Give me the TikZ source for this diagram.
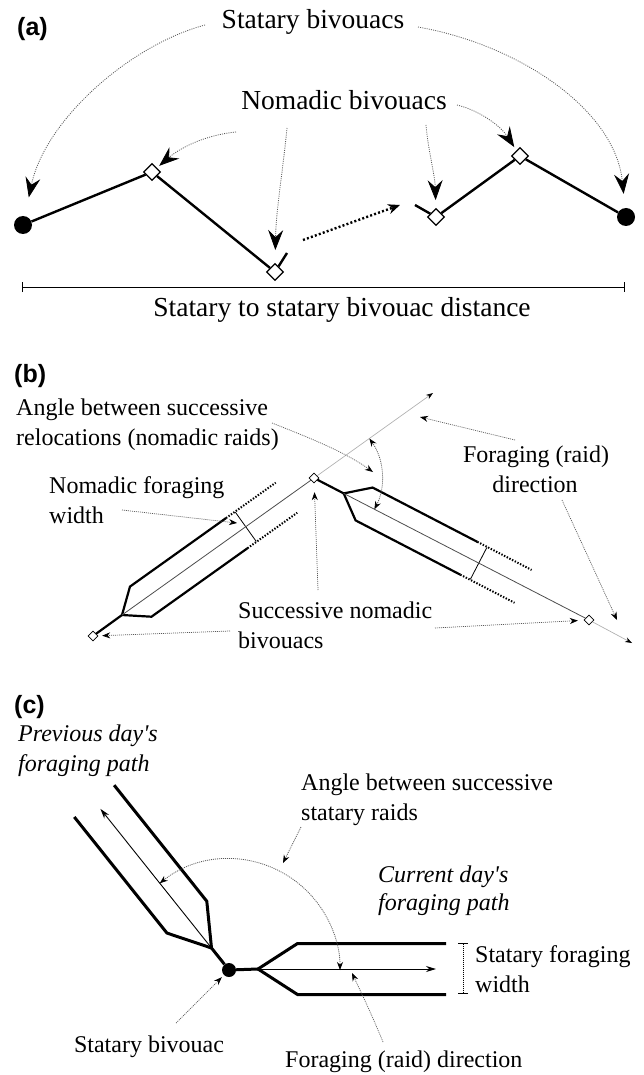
\documentclass[tikz,border=0pt]{standalone}
\usepackage{fontspec}
\setmainfont{Liberation Serif}
\newfontfamily\panelfont{Liberation Sans}
\usetikzlibrary{arrows.meta,shapes.geometric}

\tikzset{
  panel/.style={font=\panelfont\bfseries\fontsize{25}{29}\selectfont, inner sep=0pt},
  txta/.style={font=\fontsize{27.5}{31}\selectfont, inner sep=0pt},
  txt/.style={font=\fontsize{24}{28}\selectfont, inner sep=0pt},
  txti/.style={font=\itshape\fontsize{24}{28}\selectfont, inner sep=0pt},
  statary/.style={circle, fill=black, inner sep=0pt, minimum size=18pt},
  nomadic/.style={diamond, draw=black, fill=white, line width=1.2pt, inner sep=0pt, minimum size=17pt},
  smallbiv/.style={diamond, draw=black, fill=white, line width=0.8pt, inner sep=0pt, minimum size=10pt},
  statdot/.style={circle, fill=black, inner sep=0pt, minimum size=14pt},
  route/.style={line width=2.4pt},
  scalebar/.style={line width=0.9pt, {Bar[width=10pt]}-{Bar[width=10pt]}},
  pointer/.style={gray!70!black, line width=0.8pt, dash pattern=on 1pt off 1.2pt,
    -{Stealth[length=20pt, width=15pt, inset=7pt, color=black]}},
  note/.style={gray!70!black, line width=0.7pt, dash pattern=on 1pt off 1pt,
    -{Stealth[length=8pt, width=6pt, color=black]}},
  gaparrow/.style={line width=2.4pt, dash pattern=on 2pt off 2.2pt,
    -{Stealth[length=12pt, width=10pt]}},
  band/.style={line width=2.2pt},
  banddots/.style={line width=2pt, dash pattern=on 1.4pt off 1.6pt},
  axis/.style={line width=0.8pt, gray!60!black},
  axisext/.style={line width=0.7pt, gray!60, -{Stealth[length=7pt, width=5pt, color=black]}},
  anglearc/.style={gray!70!black, line width=0.8pt, dash pattern=on 1pt off 1pt,
    {Stealth[length=8pt, width=6pt, color=black]}-{Stealth[length=8pt, width=6pt, color=black]}},
  bandc/.style={line width=3pt},
  raidarrow/.style={line width=0.9pt, -{Stealth[length=10pt, width=6pt]}},
  widthbar/.style={line width=0.8pt, dash pattern=on 1pt off 1pt, {Bar[width=10pt]}-{Bar[width=10pt]}},
  % one nomadic raid band, starting at its fork
  raidb/.pic={
    \draw[band] (0,0) -- (23,18.5) -- (141,18.5);
    \draw[band] (0,0) -- (23,-18.5) -- (141,-18.5);
    \draw[banddots] (141,18.5) -- (202,18.5);
    \draw[banddots] (141,-18.5) -- (202,-18.5);
    \draw[line width=0.8pt] (152,18) -- (152,-18);
  },
  % one statary raid band, starting at its fork
  raidc/.pic={
    \draw[bandc] (0,0) -- (39.5,25.5) -- (188,25.5);
    \draw[bandc] (0,0) -- (39.5,-25.5) -- (188,-25.5);
    \draw[raidarrow] (0,0) -- (178,0);
  },
}

\begin{document}
\begin{tikzpicture}[x=1pt,y=1pt]
\useasboundingbox (0,0) rectangle (643,-1075);

% ---------- (a)
\node[panel, anchor=base west] (la) at (17,-36) {(a)};
\node[txta, anchor=base] (sb) at (313,-29) {Statary bivouacs};
\node[txta, anchor=base] (nb) at (344,-110) {Nomadic bivouacs};

\node[statary] (c1) at (23,-225) {};
\node[nomadic] (d1) at (152,-172) {};
\node[nomadic] (d2) at (275,-272) {};
\node[nomadic] (d3) at (436,-217) {};
\node[nomadic] (d4) at (520,-156) {};
\node[statary] (c2) at (626,-217) {};
\coordinate (d2end) at (287,-253);
\coordinate (d3end) at (415,-205);
\coordinate (gap1) at (303,-240);
\coordinate (gap2) at (400,-205);

\draw[route] (c1) -- (d1) -- (d2) -- (d2end);
\draw[route] (d3end) -- (d3) -- (d4) -- (c2);
\draw[gaparrow] (gap1) -- (gap2);

\coordinate (sbl) at (205,-25);
\coordinate (sbr) at (418,-27);
\draw[pointer, shorten >=19pt] (sbl) .. controls (130,-45) and (45,-120) .. (c1);
\draw[pointer, shorten >=14pt] (sbr) .. controls (520,-45) and (615,-110) .. (c2);

\coordinate (nb1) at (236,-132);
\coordinate (nb2) at (287,-128);
\coordinate (nb3) at (426,-125);
\coordinate (nb4) at (457,-105);
\draw[pointer, shorten >=3pt] (nb1) .. controls (205,-135) and (180,-148) .. (d1);
\draw[pointer, shorten >=13pt] (nb2) .. controls (283,-170) and (276,-210) .. (d2);
\draw[pointer, shorten >=8pt] (nb3) .. controls (428,-150) and (435,-175) .. (d3);
\draw[pointer, shorten >=4pt] (nb4) .. controls (478,-110) and (500,-125) .. (d4);

\coordinate (bl) at (22,-287);
\coordinate (br) at (625,-287);
\draw[scalebar] (bl) -- (br);
\node[txta, anchor=base] (dist) at (342,-316) {Statary to statary bivouac distance};

% ---------- (b)
\node[panel, anchor=base west] (lb) at (14,-382) {(b)};
\coordinate (f1) at (122,-615);
\coordinate (f2) at (343.7,-493.4);
\coordinate (tip1) at (433,-393);
\coordinate (tip2) at (632,-643);
\pic[rotate=35.5] at (f1) {raidb};
\pic[rotate=-27.4] at (f2) {raidb};
\node[smallbiv] (v) at (314,-478) {};
\node[smallbiv] (b1) at (93,-636) {};
\node[smallbiv] (b2) at (589,-620) {};
\draw[band] (b1) -- (f1);
\draw[band] (v) -- (f2);
\draw[axis] (f1) -- (v);
\draw[axis] (f2) -- (b2);
\draw[axisext] (v) -- (tip1);
\draw[axisext] (b2) -- (tip2);
\draw[anglearc] (v) ++(35.5:68) arc[start angle=35.5, end angle=-27.4, radius=68];

\node[txt, anchor=base west] (ang1) at (16,-415) {Angle between successive};
\node[txt, anchor=base west] (ang2) at (16,-445) {relocations (nomadic raids)};
\node[txt, anchor=base west] (nfw1) at (49,-493) {Nomadic foraging};
\node[txt, anchor=base west] (nfw2) at (49,-523) {width};
\node[txt, anchor=base] (fd1) at (536,-462) {Foraging (raid)};
\node[txt, anchor=base] (fd2) at (535,-492) {direction};
\node[txt, anchor=base west] (snb1) at (238,-618) {Successive nomadic};
\node[txt, anchor=base west] (snb2) at (238,-648) {bivouacs};

\coordinate (angs) at (272,-423);
\coordinate (angt) at (373,-472);
\coordinate (nfws) at (122,-510);
\coordinate (nfwt) at (237,-523);
\coordinate (fds1) at (515,-440);
\coordinate (fdt1) at (420,-417);
\coordinate (fds2) at (562,-500);
\coordinate (fdt2) at (617,-620);
\draw[note] (angs) .. controls (310,-438) and (345,-452) .. (angt);
\draw[note] (nfws) -- (nfwt);
\draw[note] (fds1) -- (fdt1);
\draw[note] (fds2) -- (fdt2);
\coordinate (snv) at (318,-590);
\coordinate (snl) at (230,-631);
\coordinate (snr) at (435,-628);
\draw[note, shorten >=9pt] (snv) -- (v);
\draw[note, shorten >=4pt] (snl) -- (b1);
\draw[note, shorten >=6pt] (snr) -- (b2);

% ---------- (c)
\node[panel, anchor=base west] (lc) at (14,-713) {(c)};
\coordinate (fp) at (211.5,-948);
\coordinate (fc) at (258,-969);
\pic[rotate=128.6] at (fp) {raidc};
\pic at (fc) {raidc};
\node[statdot] (s) at (229,-970) {};
\draw[bandc] (s) -- (fp);
\draw[bandc] (s) -- (fc);
\draw[anglearc] (s) ++(128.6:111) arc[start angle=128.6, end angle=0, radius=111];
\coordinate (wt) at (463,-943);
\coordinate (wb) at (463,-994);
\draw[widthbar] (wt) -- (wb);

\node[txti, anchor=base west] (pd1) at (18,-741) {Previous day\textquotesingle s};
\node[txti, anchor=base west] (pd2) at (18,-771) {foraging path};
\node[txt, anchor=base west] (sa1) at (301,-790) {Angle between successive};
\node[txt, anchor=base west] (sa2) at (301,-820) {statary raids};
\node[txti, anchor=base west] (cd1) at (378,-882) {Current day\textquotesingle s};
\node[txti, anchor=base west] (cd2) at (378,-910) {foraging path};
\node[txt, anchor=base west] (sw1) at (475,-962) {Statary foraging};
\node[txt, anchor=base west] (sw2) at (475,-992) {width};
\node[txt, anchor=base] (sbv) at (149,-1052) {Statary bivouac};
\node[txt, anchor=base west] (rd) at (285,-1067) {Foraging (raid) direction};

\coordinate (sas) at (301,-827);
\coordinate (sat) at (283,-863);
\coordinate (sbvs) at (176,-1023);
\coordinate (rds) at (383,-1042);
\coordinate (rdt) at (352,-973);
\draw[note] (sas) -- (sat);
\draw[note, shorten >=3pt] (sbvs) -- (s);
\draw[note] (rds) .. controls (372,-1015) and (360,-990) .. (rdt);
\end{tikzpicture}
\end{document}
